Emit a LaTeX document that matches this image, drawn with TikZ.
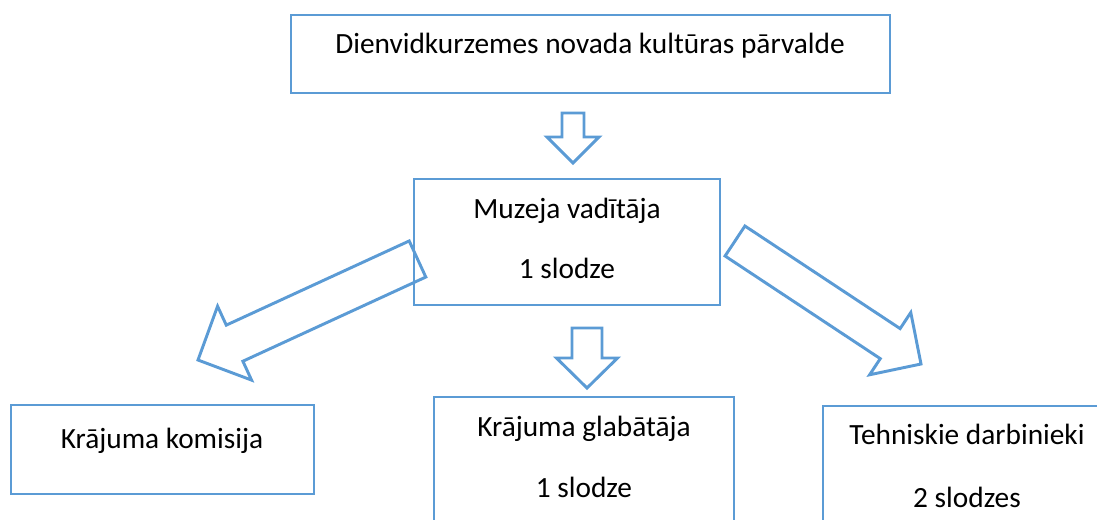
\documentclass[tikz,border=0pt]{standalone}
\usepackage{fontspec}
\setmainfont{Carlito}
\usetikzlibrary{calc}
\definecolor{boxblue}{RGB}{91,155,213}
\tikzset{
  box/.style={draw=boxblue, line width=2.2pt, rectangle, inner sep=0pt},
  txt/.style={anchor=base, inner sep=0pt, font=\fontsize{22}{26}\selectfont},
  bigarrow/.style={draw=boxblue, line width=2.2pt, line join=miter}
}
% block arrow from #1 to #2: shaft half width #3, head half width #4, head length #5
\newcommand{\blockarrow}[5]{
  \path ($(#2)!#5!(#1)$) coordinate (j);
  \draw[bigarrow] ($(#1)!#3!90:(#2)$) -- ($(j)!#3!-90:(#1)$) -- ($(j)!#4!-90:(#1)$)
    -- (#2) -- ($(j)!#4!90:(#1)$) -- ($(j)!#3!90:(#1)$) -- ($(#1)!#3!-90:(#2)$) -- cycle;
}
\begin{document}
\begin{tikzpicture}[x=0.75pt,y=-0.75pt]
	\useasboundingbox (0,0) rectangle (1097,519);

	\node[box, minimum width=449.25pt, minimum height=58.5pt] (parvalde) at (590.5,54) {};
	\node[box, minimum width=229.5pt, minimum height=94.5pt] (vaditaja) at (567,242) {};
	\node[box, minimum width=227.25pt, minimum height=66.75pt] (komisija) at (162.5,449.5) {};
	\node[box, minimum width=225pt, minimum height=122.25pt] (glabataja) at (584,478.5) {};
	\node[box, minimum width=216pt, minimum height=115.5pt] (tehniskie) at (967,483) {};

	\node[txt] (parvalde-t) at (590,53) {Dienvidkurzemes novada kultūras pārvalde};
	\node[txt] (vaditaja-t) at (567,218) {Muzeja vadītāja};
	\node[txt] (vaditaja-s) at (567,278) {1 slodze};
	\node[txt] (komisija-t) at (162,448) {Krājuma komisija};
	\node[txt] (glabataja-t) at (584,436) {Krājuma glabātāja};
	\node[txt] (glabataja-s) at (584,497) {1 slodze};
	\node[txt] (tehniskie-t) at (967,444) {Tehniskie darbinieki};
	\node[txt] (tehniskie-s) at (967,507) {2 slodzes};

	\coordinate (top-a) at (573,113);
	\coordinate (top-b) at (573,163);
	\coordinate (mid-a) at (587,328);
	\coordinate (mid-b) at (587,388);
	\coordinate (left-a) at (417.5,259);
	\coordinate (left-b) at (198,360);
	\coordinate (right-a) at (735,241);
	\coordinate (right-b) at (921,364);

	\blockarrow{top-a}{top-b}{8.25pt}{19.5pt}{19.5pt}
	\blockarrow{mid-a}{mid-b}{11.25pt}{22.9pt}{22.5pt}
	\blockarrow{left-a}{left-b}{14.9pt}{30.5pt}{30.2pt}
	\blockarrow{right-a}{right-b}{13.5pt}{28pt}{27.7pt}
\end{tikzpicture}
\end{document}
